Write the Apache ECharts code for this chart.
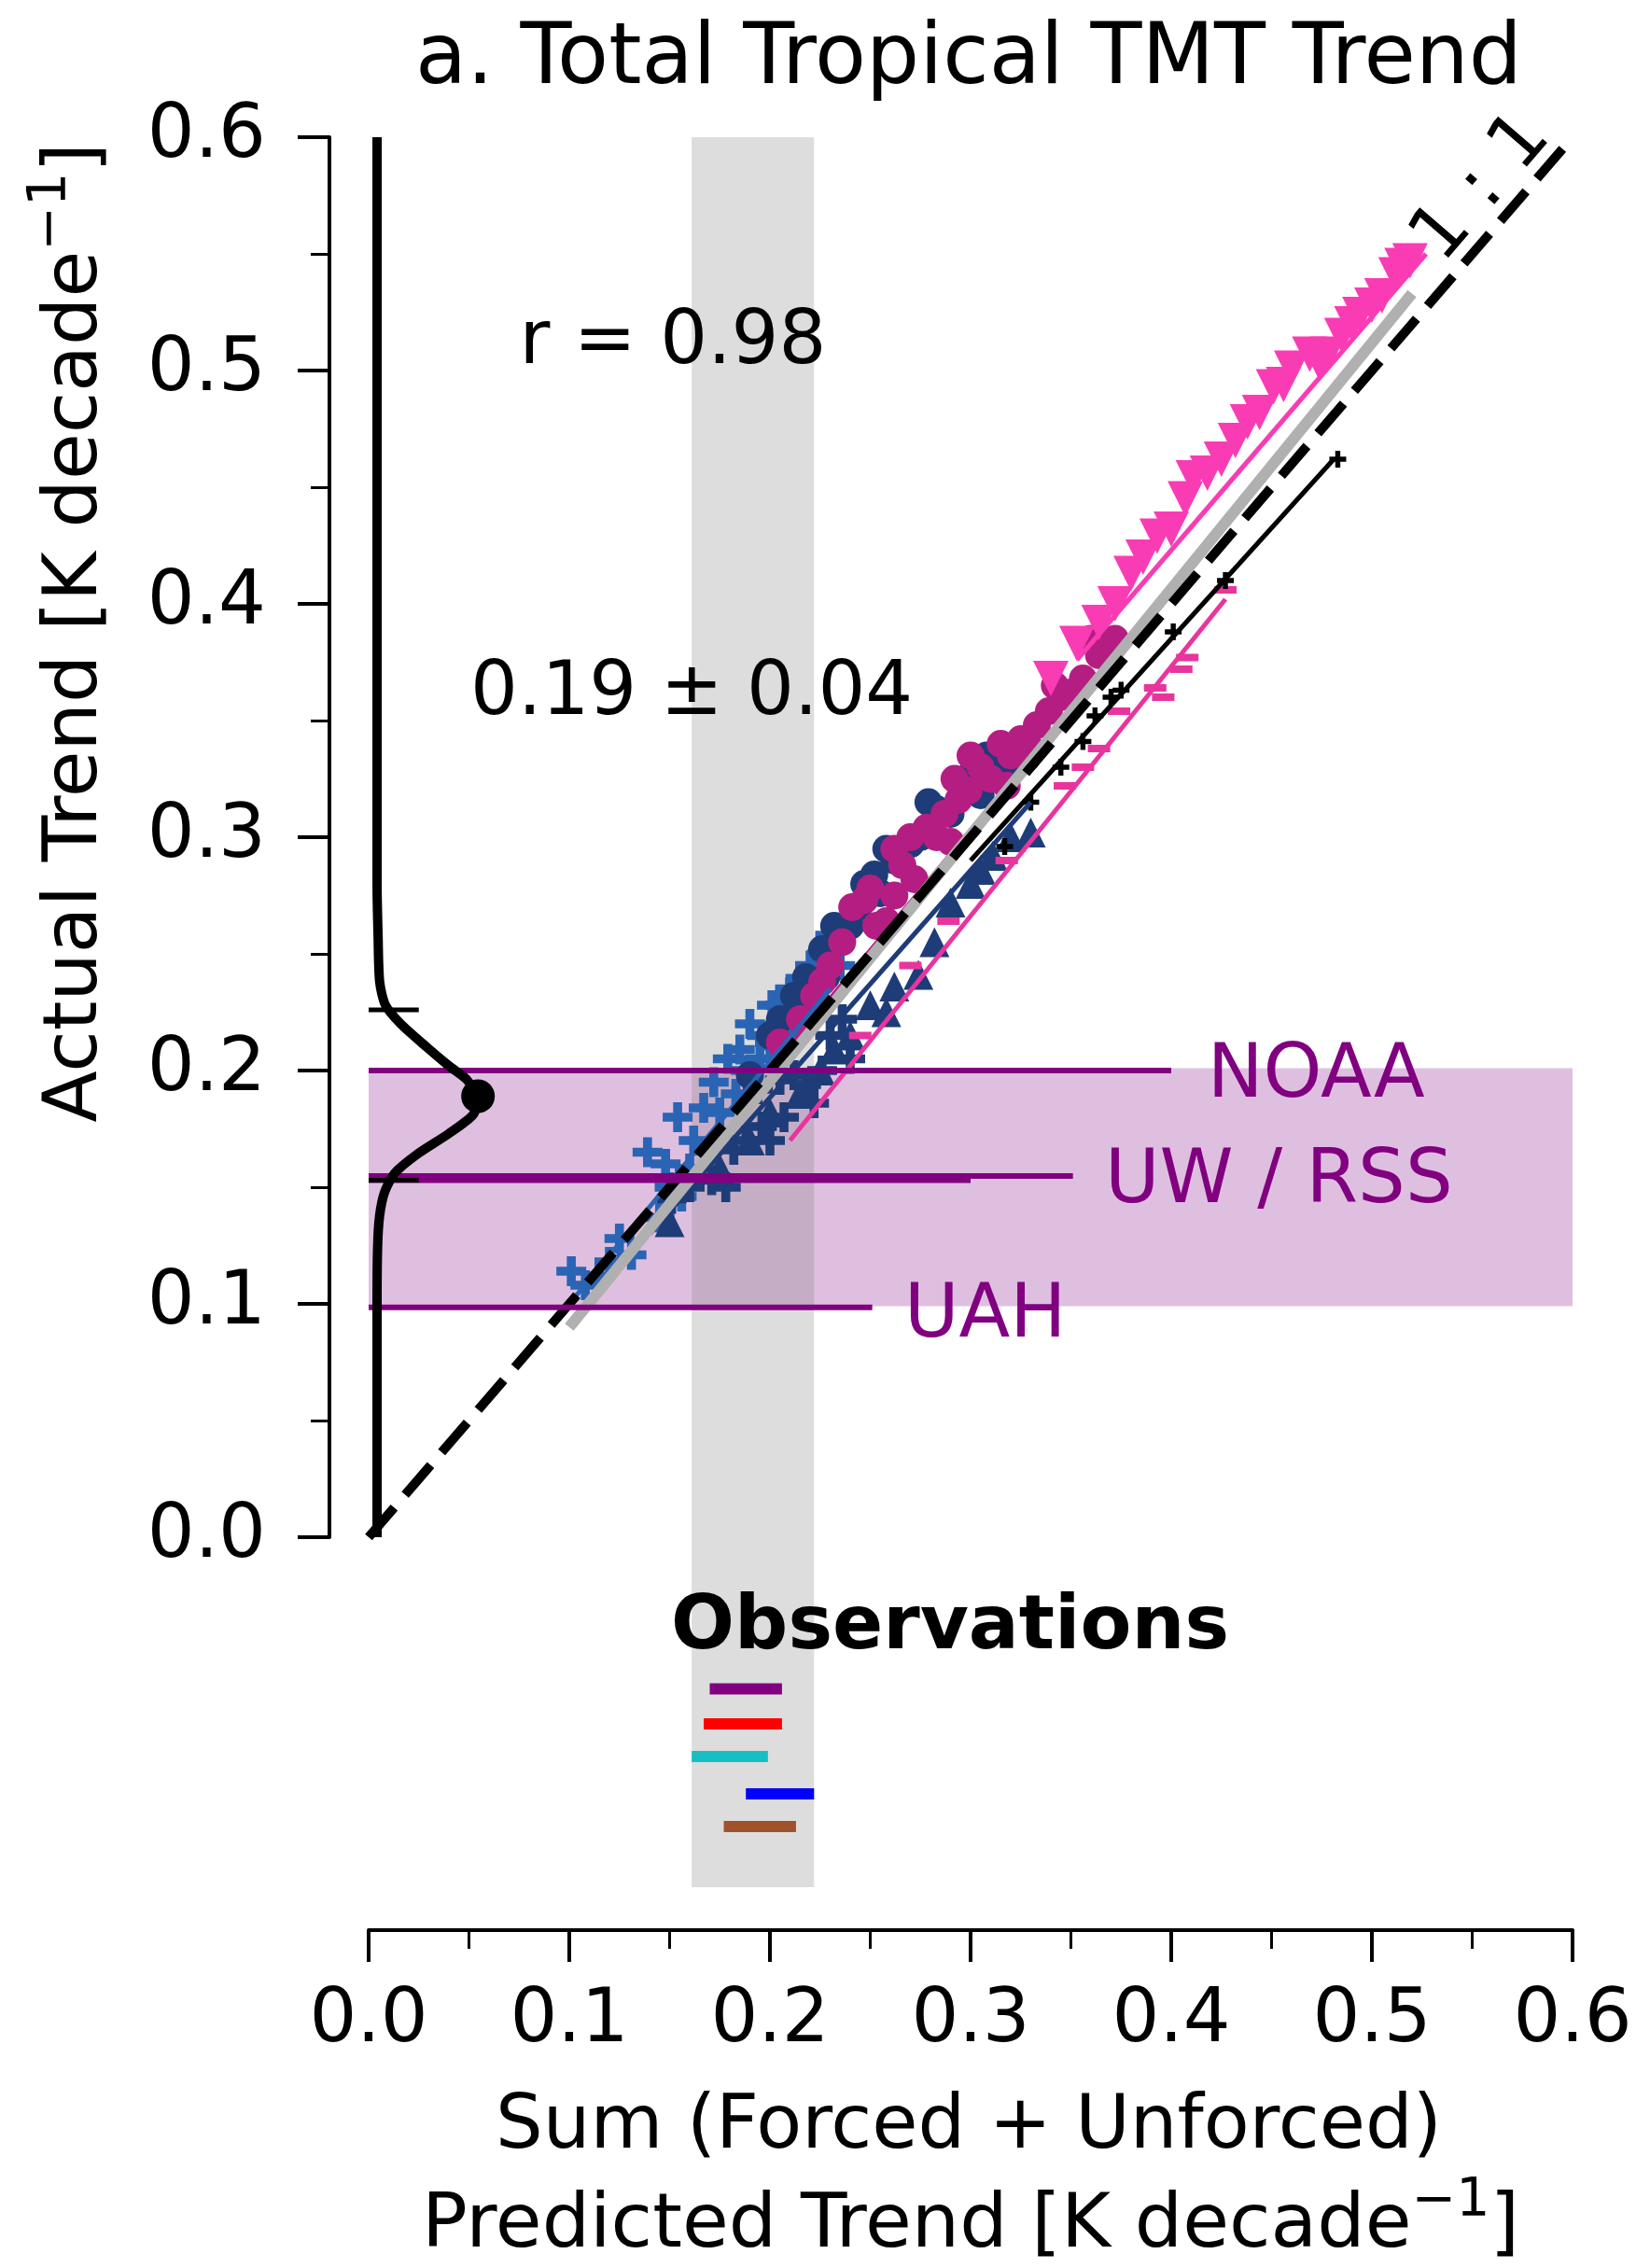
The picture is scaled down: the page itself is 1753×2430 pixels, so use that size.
<!DOCTYPE html>
<html><head><meta charset="utf-8">
<script src="https://cdn.jsdelivr.net/npm/echarts/dist/echarts.min.js"></script>
<style>html,body{margin:0;padding:0;background:#fff}#c{width:1753px;height:2430px}</style>
</head><body><div id="c"></div>
<script>
// ---------------- DATA ----------------
const xTickLabels = ['0.0','0.1','0.2','0.3','0.4','0.5','0.6'];
const yTickLabels = ['0.0','0.1','0.2','0.3','0.4','0.5','0.6'];

const bluePlus = [[0.101,0.114],[0.108,0.108],[0.115,0.112],[0.120,0.118],[0.125,0.128],[0.131,0.121],[0.139,0.165],[0.145,0.137],[0.148,0.160],[0.150,0.150],[0.154,0.180],[0.156,0.146],[0.160,0.158],[0.162,0.170],[0.167,0.184],[0.172,0.195],[0.175,0.182],[0.179,0.205],[0.183,0.190],[0.185,0.209],[0.188,0.200],[0.190,0.220],[0.195,0.205],[0.196,0.215],[0.200,0.212],[0.201,0.228],[0.205,0.228],[0.208,0.222],[0.210,0.235],[0.212,0.218],[0.215,0.238],[0.220,0.245],[0.222,0.232],[0.226,0.250],[0.230,0.258],[0.235,0.245]];
const navyPlus = [[0.151,0.145],[0.160,0.150],[0.171,0.153],[0.178,0.150],[0.182,0.166],[0.188,0.170],[0.196,0.176],[0.200,0.170],[0.207,0.180],[0.194,0.192],[0.205,0.196],[0.212,0.198],[0.218,0.194],[0.222,0.186],[0.226,0.200],[0.230,0.215],[0.236,0.222],[0.240,0.205]];
const navyCircles = [[0.190,0.198],[0.200,0.215],[0.205,0.222],[0.212,0.232],[0.218,0.240],[0.220,0.230],[0.226,0.252],[0.228,0.240],[0.232,0.262],[0.235,0.255],[0.240,0.262],[0.244,0.270],[0.247,0.280],[0.252,0.284],[0.255,0.276],[0.258,0.295],[0.262,0.290],[0.270,0.297],[0.275,0.300],[0.279,0.315],[0.283,0.312],[0.290,0.310],[0.295,0.322],[0.299,0.326],[0.305,0.318],[0.308,0.335],[0.313,0.333],[0.318,0.338],[0.322,0.330],[0.328,0.334]];
const navyTriangles = [[0.150,0.135],[0.175,0.158],[0.190,0.170],[0.200,0.182],[0.215,0.190],[0.225,0.200],[0.232,0.209],[0.240,0.215],[0.250,0.228],[0.258,0.225],[0.262,0.236],[0.274,0.241],[0.282,0.255],[0.290,0.272],[0.300,0.280],[0.305,0.286],[0.311,0.292],[0.320,0.300],[0.330,0.302]];
const magentaCircles = [[0.205,0.212],[0.215,0.222],[0.222,0.232],[0.226,0.238],[0.230,0.245],[0.236,0.255],[0.241,0.270],[0.247,0.273],[0.250,0.278],[0.253,0.262],[0.258,0.264],[0.262,0.275],[0.262,0.295],[0.266,0.288],[0.270,0.300],[0.272,0.282],[0.278,0.304],[0.283,0.300],[0.287,0.310],[0.290,0.298],[0.292,0.325],[0.294,0.316],[0.299,0.320],[0.300,0.335],[0.305,0.330],[0.310,0.325],[0.315,0.340],[0.318,0.322],[0.320,0.335],[0.325,0.342],[0.330,0.338],[0.333,0.348],[0.339,0.354],[0.342,0.365],[0.345,0.360],[0.350,0.362],[0.356,0.368],[0.360,0.385],[0.364,0.378],[0.372,0.385]];
const pinkDash = [[0.245,0.215],[0.270,0.245],[0.289,0.264],[0.318,0.290],[0.347,0.322],[0.356,0.330],[0.364,0.338],[0.374,0.354],[0.392,0.364],[0.396,0.360],[0.405,0.372],[0.408,0.377],[0.427,0.406]];
const blackPlus = [[0.317,0.296],[0.330,0.315],[0.345,0.330],[0.356,0.341],[0.362,0.352],[0.370,0.360],[0.375,0.363],[0.401,0.388],[0.427,0.410],[0.483,0.462]];
const pinkTriangles = [[0.340,0.368],[0.353,0.383],[0.364,0.392],[0.372,0.400],[0.380,0.413],[0.386,0.420],[0.393,0.429],[0.400,0.432],[0.407,0.445],[0.411,0.454],[0.418,0.456],[0.425,0.462],[0.432,0.470],[0.438,0.478],[0.444,0.482],[0.451,0.493],[0.456,0.494],[0.460,0.501],[0.469,0.507],[0.474,0.503],[0.478,0.507],[0.485,0.515],[0.490,0.520],[0.494,0.524],[0.500,0.528],[0.505,0.532],[0.512,0.541],[0.515,0.545],[0.519,0.547]];

const blueFit = [[0.100,0.100],[0.230,0.235]];
const navyFit = [[0.140,0.130],[0.330,0.315]];
const magentaFit = [[0.200,0.200],[0.370,0.375]];
const pinkDashFit = [[0.210,0.170],[0.427,0.402]];
const blackFit = [[0.300,0.290],[0.481,0.462]];
const pinkTriFit = [[0.353,0.376],[0.527,0.550]];
const allFit = [[0.100,0.090],[0.520,0.533]];
const oneToOne = [[0,0],[0.6,0.6]];

const obsProducts = ['NOAA','UW','RSS','UAH'];
const obsTrend = [0.200,0.1548,0.1530,0.0985];
const obsLineEnd = [0.400,0.351,0.300,0.251];
const obsBand = [0.099,0.201];

const obsBarLo = [0.170,0.167,0.161,0.188,0.177];
const obsBarHi = [0.206,0.206,0.199,0.222,0.213];
const obsBarY  = [-0.065,-0.080,-0.094,-0.110,-0.124];
const greySpan = [0.161,0.222];

const kdeCurve = [[0.0042,0.000],[0.0042,0.100],[0.0045,0.125],[0.0055,0.138],[0.008,0.148],[0.013,0.156],[0.024,0.164],[0.040,0.173],[0.052,0.181],[0.0545,0.188],[0.049,0.196],[0.040,0.202],[0.029,0.210],[0.016,0.220],[0.0084,0.228],[0.0055,0.238],[0.0047,0.258],[0.0042,0.280],[0.0042,0.600]];
const kdeMean = [0.0545,0.189];
const kdeSd = [0.226,0.153];
const kdeSdTickX = [0.0,0.025];

// ---------------- STYLE / LAYOUT ----------------
const FONT = 'DejaVu Sans';
const PURPLE = '#800080';
const obsBarColors = ['#800080','#ff0000','#17bfc4','#0000ff','#a0522d'];
const PLUS = 'path://M35,0H65V35H100V65H65V100H35V65H0V35H35Z';

const chart = echarts.init(document.getElementById('c'), null, {renderer:'canvas'});

function seg(data, color, width, z, extra) {
  return {type:'line', xAxisIndex:0, yAxisIndex:0, data, symbol:'none', silent:true,
          lineStyle:Object.assign({color, width, cap:'butt'}, extra||{}), z, animation:false};
}
function sc(data, symbol, size, color, z, extra) {
  return Object.assign({type:'scatter', xAxisIndex:0, yAxisIndex:0, data, symbol, symbolSize:size,
          itemStyle:{color, opacity:1}, z, silent:true, animation:false}, extra||{});
}

const series = [];
series.push({type:'line', data:[], xAxisIndex:0, yAxisIndex:0, z:1, silent:true,
  markArea:{silent:true, itemStyle:{color:'rgba(128,0,128,0.25)'},
    data:[[{coord:[0,obsBand[0]]},{coord:[0.6,obsBand[1]]}]]}});
series.push({type:'line', data:[], xAxisIndex:0, yAxisIndex:0, z:1, silent:true,
  markArea:{silent:true, itemStyle:{color:'rgba(128,128,128,0.27)'},
    data:[[{coord:[greySpan[0],-0.15]},{coord:[greySpan[1],0.6]}]]}});
obsBarY.forEach((y,i)=>series.push(seg([[obsBarLo[i],y],[obsBarHi[i],y]], obsBarColors[i], 12, 2)));
series.push(sc(bluePlus, PLUS, 32, '#2a64b4', 3));
series.push(sc(navyPlus, PLUS, 32, '#1e3c78', 3));
series.push(sc(navyCircles, 'circle', 30, '#1e3c78', 3));
series.push(sc(navyTriangles, 'triangle', 32, '#1e3c78', 3));
series.push(sc(magentaCircles, 'circle', 30, '#b41e82', 3));
series.push(sc(pinkDash, 'rect', [24,8], '#e8359e', 3));
series.push(sc(blackPlus, PLUS, 18, '#000000', 3));
series.push(sc(pinkTriangles, 'triangle', 38, '#f93cb4', 3, {symbolRotate:180}));
series.push(seg(blueFit, '#2a64b4', 5, 4));
series.push(seg(navyFit, '#1e3c78', 5, 4));
series.push(seg(magentaFit, '#b41e82', 5, 4));
series.push(seg(pinkDashFit, '#e8359e', 5, 4));
series.push(seg(blackFit, '#000000', 5, 4));
series.push(seg(pinkTriFit, '#f93cb4', 5, 4));
series.push(seg(allFit, '#b0b0b0', 12, 5));
series.push(seg(oneToOne, '#000000', 10, 6, {type:[42,18]}));
obsTrend.forEach((y,i)=>series.push(seg([[0,y],[obsLineEnd[i],y]], PURPLE, 6, 7)));
series.push(Object.assign(seg(kdeCurve, '#000000', 10, 8), {smooth:0.25}));
kdeSd.forEach(y=>series.push(seg([[kdeSdTickX[0],y],[kdeSdTickX[1],y]], '#000000', 5, 8)));
series.push(sc([kdeMean], 'circle', 36, '#000000', 9));

const axisCommon = {
  axisLine:{show:true, onZero:false, lineStyle:{color:'#000', width:4}},
  axisTick:{show:true, length:34, lineStyle:{color:'#000', width:4}},
  minorTick:{show:true, splitNumber:2, length:20, lineStyle:{color:'#000', width:3}},
  splitLine:{show:false}, minorSplitLine:{show:false}
};

chart.setOption({
  animation:false,
  backgroundColor:'#ffffff',
  grid:[{left:395, right:68, top:147, bottom:408}, {left:353, top:147, width:10, height:1500}],
  xAxis:[
    Object.assign({type:'value', gridIndex:0, min:0, max:0.6, interval:0.1, offset:46,
      axisLabel:{fontSize:80, fontFamily:FONT, color:'#000', margin:58,
        formatter:v=>xTickLabels[Math.round(v*10)]}}, axisCommon),
    {type:'value', gridIndex:1, min:0, max:1, show:false}
  ],
  yAxis:[
    {type:'value', gridIndex:0, min:-0.15, max:0.6, show:false},
    Object.assign({type:'value', gridIndex:1, min:0, max:0.6, interval:0.1,
      axisLabel:{fontSize:80, fontFamily:FONT, color:'#000', margin:68,
        formatter:v=>yTickLabels[Math.round(v*10)]}}, axisCommon)
  ],
  series
});

// ---------------- TEXT ----------------
const dataTexts = [
  {text:'r = 0.98', at:[0.1516,0.5116], align:'center'},
  {text:'0.19 ± 0.04', at:[0.161,0.361], align:'center'},
  {text:'NOAA', at:[0.418,0.197], align:'left', color:PURPLE},
  {text:'UW / RSS', at:[0.367,0.152], align:'left', color:PURPLE},
  {text:'UAH', at:[0.267,0.0944], align:'left', color:PURPLE},
  {text:'Observations', at:[0.2898,-0.0392], align:'center', bold:true}
];
const graphics = dataTexts.map(d=>{
  const p = chart.convertToPixel({gridIndex:0}, d.at);
  return {type:'text', x:p[0], y:p[1], z:20, silent:true,
    style:{text:d.text, fontSize:80, fontFamily:FONT, fontWeight:d.bold?'bold':'normal',
      fill:d.color||'#000', align:d.align, verticalAlign:'middle'}};
});
const p11 = chart.convertToPixel({gridIndex:0}, [0.555,0.578]);
graphics.push({type:'text', x:p11[0], y:p11[1], rotation:0.86, z:20, silent:true,
  style:{text:'1 : 1', fontSize:80, fontFamily:FONT, fill:'#000', align:'center', verticalAlign:'middle'}});
graphics.push({type:'text', x:1038, y:66, z:20, silent:true,
  style:{text:'a. Total Tropical TMT Trend', fontSize:90, fontFamily:FONT, fill:'#000', align:'center', verticalAlign:'middle'}});
const rich = {n:{fontSize:81, fontFamily:FONT, lineHeight:110, fill:'#000'},
              s:{fontSize:57, fontFamily:FONT, lineHeight:57, verticalAlign:'top', fill:'#000'}};
graphics.push({type:'text', x:82, y:678, rotation:Math.PI/2, z:20, silent:true,
  style:{text:'{n|Actual Trend [K decade}{s|−1}{n|]}', rich, align:'center', verticalAlign:'middle'}});
graphics.push({type:'text', x:1038, y:2280, z:20, silent:true,
  style:{text:'Sum (Forced + Unforced)', fontSize:80, fontFamily:FONT, fill:'#000', align:'center', verticalAlign:'middle'}});
graphics.push({type:'text', x:1040, y:2386, z:20, silent:true,
  style:{text:'{n|Predicted Trend [K decade}{s|−1}{n|]}', rich, align:'center', verticalAlign:'middle'}});
chart.setOption({graphic:graphics});
</script></body></html>
